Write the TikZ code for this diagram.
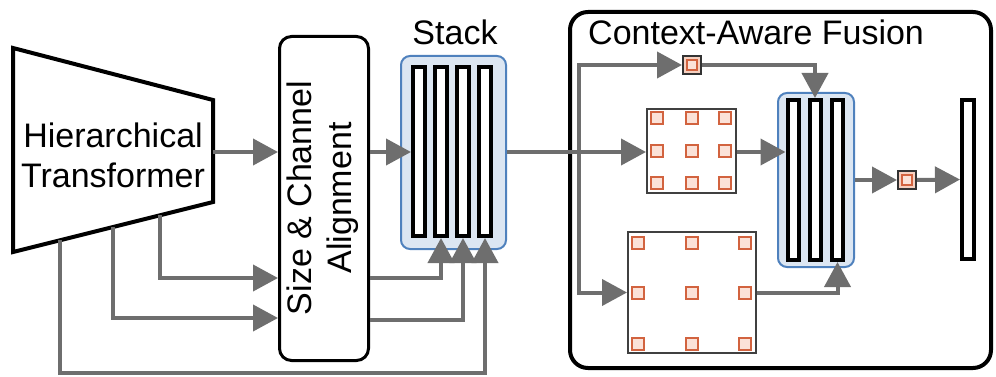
\documentclass[tikz,border=0pt]{standalone}
\usepackage{fontspec}
\setmainfont{Liberation Sans}
\usetikzlibrary{arrows.meta,calc}

\definecolor{flowgray}{HTML}{6E6E6E}
\definecolor{stackfill}{HTML}{DCE6F2}
\definecolor{stackline}{HTML}{4F81BD}
\definecolor{cellline}{HTML}{D2633F}
\definecolor{cellfill}{HTML}{FBE2D8}
\definecolor{tokfill}{HTML}{F5D0C0}

\tikzset{
  flow/.style={draw=flowgray, line width=4pt, -{Triangle[length=25pt,width=26pt]}},
  plain/.style={draw=flowgray, line width=4pt},
  label/.style={font=\fontsize{34}{40}\selectfont, inner sep=0pt},
  bar/.style={draw=black, fill=white, line width=4pt, inner sep=0pt,
    minimum width=12pt, rectangle},
  stackbox/.style={draw=stackline, fill=stackfill, line width=2pt,
    rounded corners=9pt, inner sep=0pt},
  grid/.style={draw=black!75, fill=white, line width=2pt, inner sep=0pt},
  cell/.style={draw=cellline, fill=cellfill, line width=2.2pt, inner sep=0pt,
    minimum size=12pt},
  token/.style={draw=black!80, fill=tokfill, line width=2pt, inner sep=0pt,
    minimum size=18pt},
  tokencore/.style={draw=cellline, fill=cellfill, line width=1.6pt,
    inner sep=0pt, minimum size=10pt},
}

\begin{document}
\begin{tikzpicture}[x=1pt, y=-1pt]
\useasboundingbox (0,0) rectangle (996,377);

% ---------------- encoder (trapezoid) ----------------
\coordinate (tl) at (13,48);
\coordinate (tr) at (213,100);
\coordinate (brc) at (213,202);
\coordinate (bl) at (13,252);
\draw[line width=4pt, line join=miter, fill=white] (tl) -- (tr) -- (brc) -- (bl) -- cycle;
\node[label, align=center] (ht) at (113,155) {Hierarchical\\Transformer};
% output taps of the encoder
\coordinate (o1) at (213,152);
\coordinate (o2) at ($(bl)!0.735!(brc)$);
\coordinate (o3) at ($(bl)!0.5!(brc)$);
\coordinate (o4) at ($(bl)!0.235!(brc)$);

% ---------------- size & channel alignment ----------------
\node[draw, line width=3pt, rounded corners=12pt, minimum width=89pt,
  minimum height=324pt, inner sep=0pt] (align) at (324,198.5) {};
\node[label, align=center, rotate=90] (alignt) at (323,198) {Size \& Channel\\Alignment};

% ---------------- stack ----------------
\node[stackbox, minimum width=105pt, minimum height=193pt] (stk) at (453.5,152.5) {};
\node[label, anchor=base] (stkt) at (455,45) {Stack};
\foreach \i/\x in {1/419,2/441,3/463,4/485}
  \node[bar, minimum height=169pt] (s\i) at (\x,151.5) {};

% ---------------- context-aware fusion ----------------
\node[draw, line width=4pt, rounded corners=18pt, minimum width=421pt,
  minimum height=356pt, inner sep=0pt] (fus) at (780.5,190) {};
\node[label, anchor=base west] (fust) at (588,45) {Context-Aware Fusion};

% global token
\node[token] (sq1) at (692,65) {};
\node[tokencore] (sq1c) at (sq1) {};

% local grid
\node[grid, minimum width=89pt, minimum height=84pt] (g1) at (691.5,151) {};
\foreach \cx in {657,692,725}
  \foreach \cy in {118,151,183}
    \node[cell] at (\cx,\cy) {};

% dilated grid
\node[grid, minimum width=128pt, minimum height=121pt] (g2) at (692,292.5) {};
\foreach \cx in {638,692,745}
  \foreach \cy in {243,293,344}
    \node[cell] at (\cx,\cy) {};

% fused stack
\node[stackbox, minimum width=76pt, minimum height=174pt] (stk2) at (816,180) {};
\foreach \i/\x in {1/793,2/815,3/837.5}
  \node[bar, minimum width=11pt, minimum height=160pt] (t\i) at (\x,180) {};

% output token and final vector
\node[token] (sq2) at (907,180) {};
\node[tokencore] (sq2c) at (sq2) {};
\node[bar, minimum height=159pt] (fin) at (968,179.5) {};

% ---------------- connectors ----------------
\draw[flow] (o1) -- (o1 -| align.west);
\draw[flow] (o2) |- (align.west |- 0,278);
\draw[flow] (o3) |- (align.west |- 0,318);
\coordinate (low) at (60,373);
\draw[flow] (o4) -- (o4 |- low) -| (s4.south);

\draw[flow] (align.east |- 0,152) -- (s1.west |- 0,152);
\draw[flow] (align.east |- 0,278) -| (s2.south);
\draw[flow] (align.east |- 0,320) -| (s3.south);

\coordinate (fork) at (579,152);
\draw[flow] (stk.east |- fork) -- (g1.west |- fork);
\draw[flow] (fork) |- (sq1.west);
\draw[flow] (fork) |- (g2.west);

\draw[flow] (sq1.east) -| (t2.north);
\draw[flow] (g1.east |- fork) -- (t1.west |- fork);
\draw[flow] (g2.east) -| (t3.south);

\draw[flow] (stk2.east) -- (sq2.west);
\draw[flow] (sq2.east) -- (fin.west);
\end{tikzpicture}
\end{document}
